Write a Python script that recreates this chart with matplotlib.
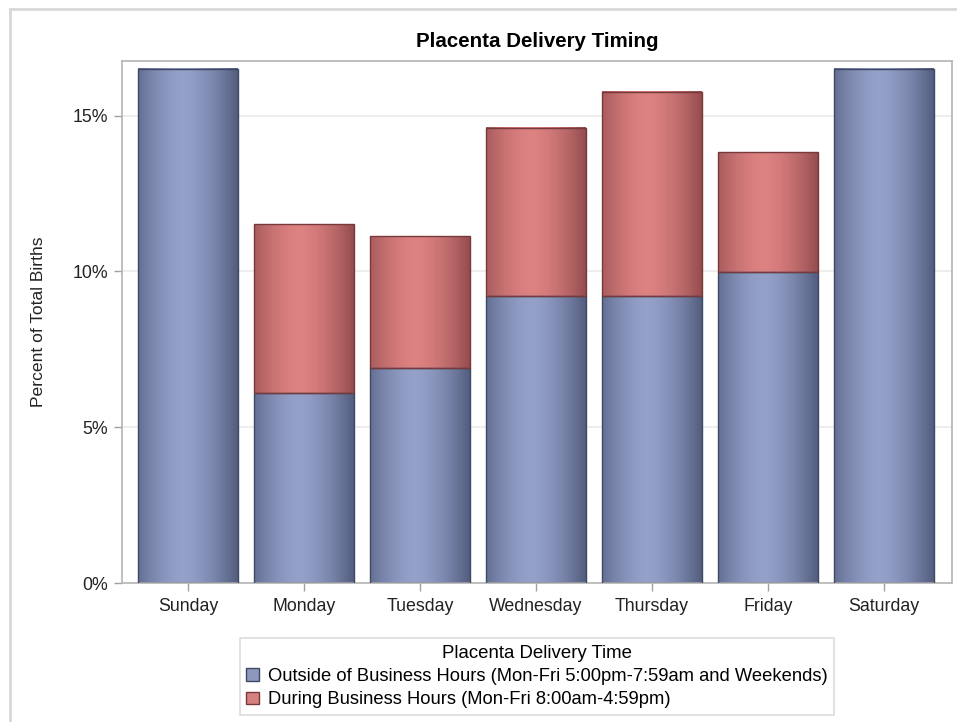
import numpy as np
import matplotlib
matplotlib.use("Agg")
import matplotlib.pyplot as plt
from matplotlib.patches import Patch
from matplotlib.lines import Line2D
from matplotlib.ticker import PercentFormatter

plt.rcParams['font.family'] = ['Liberation Sans', 'DejaVu Sans']

# values (percent of total births)
days = ['Sunday', 'Monday', 'Tuesday', 'Wednesday', 'Thursday', 'Friday', 'Saturday']
outside_hours = [16.5, 6.1, 6.9, 9.2, 9.2, 9.98, 16.5]
during_hours = [0.0, 5.42, 4.23, 5.4, 6.55, 3.85, 0.0]
series_labels = ['Outside of Business Hours (Mon-Fri 5:00pm-7:59am and Weekends)',
                 'During Business Hours (Mon-Fri 8:00am-4:59pm)']

blue_dark, blue_light, blue_edge = np.array([0.30, 0.34, 0.47]), np.array([0.58, 0.63, 0.79]), '#3f4963'
red_dark, red_light, red_edge = np.array([0.56, 0.28, 0.29]), np.array([0.87, 0.51, 0.51]), '#763a3a'


def gradient(dark, light, n=200):
    t = np.linspace(0, 1, n)
    w = 1 - np.clip(np.abs(t - 0.45) / 0.58, 0, 1) ** 1.6
    cols = dark[None, :] + (light - dark)[None, :] * w[:, None]
    return cols[None, :, :]


def shaded_bars(ax, x, heights, bottoms, dark, light, edge, width=0.86):
    bars = ax.bar(x, heights, width, bottom=bottoms, facecolor='none',
                  edgecolor=edge, linewidth=1.0, zorder=3)
    img = gradient(dark, light)
    for b in bars:
        if b.get_height() <= 0:
            b.set_visible(False)
            continue
        x0, y0 = b.get_x(), b.get_y()
        ax.imshow(img, extent=(x0, x0 + b.get_width(), y0, y0 + b.get_height()),
                  aspect='auto', interpolation='bilinear', zorder=2)
    return bars


fig = plt.figure(figsize=(9.57, 7.22), dpi=100)
ax = fig.add_axes([0.1275, 0.1925, 0.8673, 0.723])

x = np.arange(len(days))
shaded_bars(ax, x, outside_hours, 0, blue_dark, blue_light, blue_edge)
shaded_bars(ax, x, during_hours, outside_hours, red_dark, red_light, red_edge)

ax.set_xlim(-0.569, 6.586)
ax.set_ylim(0, 16.75)
ax.set_yticks([0, 5, 10, 15])
ax.yaxis.set_major_formatter(PercentFormatter(decimals=0))
ax.set_xticks(x)
ax.set_xticklabels(days)
for yv in [5, 10, 15]:
    ax.axhline(yv, color='#ebebeb', linewidth=1.2, zorder=1)

for s in ax.spines.values():
    s.set_color('#b4b4b4')
    s.set_linewidth(1.2)
ax.tick_params(axis='both', colors='#a0a0a0', labelcolor='#222222', labelsize=12.8,
               length=6, width=1.0)
ax.tick_params(axis='x', pad=5)
ax.tick_params(axis='y', pad=4)

ax.set_ylabel('Percent of Total Births', fontsize=12.6, color='#222222')
ax.yaxis.set_label_coords(-0.0916, 0.5)
ax.set_title('Placenta Delivery Timing', fontsize=14.8, fontweight='bold', pad=10)

handles = [Patch(facecolor='#8d98bf', edgecolor=blue_edge, linewidth=1.0),
           Patch(facecolor='#d68080', edgecolor=red_edge, linewidth=1.0)]
leg = fig.legend(handles, series_labels, title='Placenta Delivery Time', loc='upper center',
                 bbox_to_anchor=(0.561, 0.116), fontsize=13.2, title_fontsize=13.4,
                 frameon=True, fancybox=False, edgecolor='#d4d4d4', borderpad=0.35,
                 handlelength=0.7, handleheight=0.7, handletextpad=0.5,
                 labelspacing=0.35, borderaxespad=0)
leg.get_frame().set_linewidth(1.2)

# outer border (left and top only visible)
fig.add_artist(Line2D([10 / 957, 10 / 957], [0, 1 - 9 / 722], color='#d8d8d8', linewidth=2))
fig.add_artist(Line2D([10 / 957, 1], [1 - 9 / 722, 1 - 9 / 722], color='#d8d8d8', linewidth=2))

fig.savefig('out.png', dpi=100)
